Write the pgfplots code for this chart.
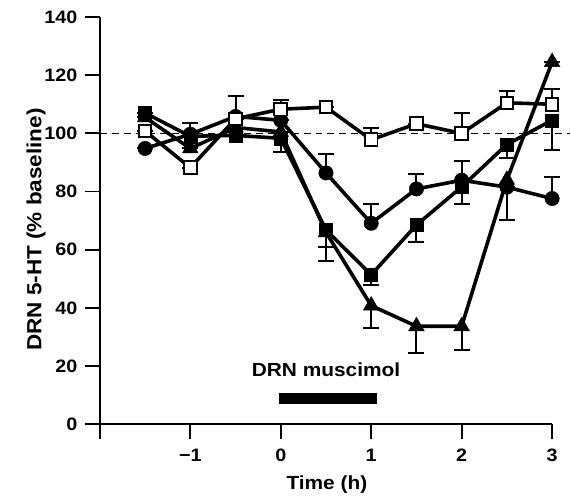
\documentclass[border=0pt]{standalone}
\usepackage{pgfplots}
\pgfplotsset{compat=1.18}
\usepackage{fontspec}
\setmainfont{Liberation Sans}[FakeStretch=1.1]
\begin{document}
\begin{tikzpicture}
\begin{axis}[
  scale only axis,
  width=453pt, height=408pt,
  xmin=-2, xmax=3, ymin=0, ymax=140,
  axis lines=left,
  axis line style={line width=1.8pt, -},
  clip=false,
  xtick={-2,-1,0,1,2,3},
  xticklabels={,−1,0,1,2,3},
  ytick={0,20,40,60,80,100,120,140},
  yticklabels={0,20,40,60,80,100,120,140},
  tick align=outside,
  major tick length=15pt,
  tick style={line width=1.8pt, black},
  tick label style={font=\bfseries\fontsize{18}{22}\selectfont},
  label style={font=\bfseries\fontsize{19}{23}\selectfont},
  xticklabel style={yshift=-6pt},
  yticklabel style={xshift=-4pt},
  xlabel={Time (h)},
  ylabel={DRN 5-HT (\% baseline)},
  xlabel style={at={(axis description cs:0.502,-0.148)}, anchor=center},
  ylabel style={at={(axis description cs:-0.141,0.478)}, anchor=center, font=\bfseries\fontsize{20.5}{24}\selectfont},
  /pgf/number format/assume math mode=true,
]
% baseline
\addplot[black, line width=1.6pt, dash pattern=on 7pt off 5pt] coordinates {(-2,100) (3.2,100)};
% muscimol bar
\addplot[black, line width=11pt] coordinates {(-0.02,9) (1.06,9)};
\node[font=\bfseries\fontsize{19}{23}\selectfont] at (axis cs:0.5,18.6) {DRN muscimol};
% triangles
\addplot[black, line width=3.6pt, mark=triangle*, mark size=9pt, mark options={line width=0.5pt},
  error bars/.cd, y dir=minus, y explicit, error mark=-, error bar style={line width=2pt},
  error mark options={rotate=90, mark size=8pt, line width=2pt}]
 table[y error=e] {
x y e
-1.5 105.5 0
-1 94.8 0
-0.5 102 0
0 100.5 0
0.5 66 5
1 40.8 7.7
1.5 33.7 9.2
2 33.7 8.2
2.5 84 13.8
3 124.5 0
};
% filled squares
\addplot[black, line width=3.6pt, mark=square*, mark size=6.5pt, mark options={line width=0.5pt},
  error bars/.cd, y dir=minus, y explicit, error mark=-, error bar style={line width=2pt},
  error mark options={rotate=90, mark size=8pt, line width=2pt}]
 table[y error=e] {
x y e
-1.5 107 0
-1 99 0
-0.5 99.3 0
0 98.3 4.8
0.5 66.8 10.8
1 51.4 3.5
1.5 68.5 5.7
2 81.6 5.9
2.5 96.2 4.5
3 104.5 10.1
};
% filled circles
\addplot[black, line width=3.6pt, mark=*, mark size=7.2pt, mark options={line width=0.5pt},
  error bars/.cd, y dir=plus, y explicit, error mark=-, error bar style={line width=2pt},
  error mark options={rotate=90, mark size=8pt, line width=2pt}]
 table[y error=e] {
x y e
-1.5 94.8 0
-1 99.7 4
-0.5 105.8 7
0 104.5 0
0.5 86.4 6.4
1 69.1 6.5
1.5 80.9 5.3
2 83.9 6.6
2.5 81.5 0
3 77.6 7.4
};
% open squares
\addplot[black, line width=3.6pt, mark=square*, mark size=6.3pt, mark options={fill=white, line width=2pt},
  error bars/.cd, y dir=plus, y explicit, error mark=-, error bar style={line width=2pt},
  error mark options={rotate=90, mark size=8pt, line width=2pt}]
 table[y error=e] {
x y e
-1.5 100.8 0
-1 88.2 0
-0.5 105 0
0 108.3 3.2
0.5 109 0
1 97.8 4.1
1.5 103.3 0
2 100 7
2.5 110.5 4
3 110 5.3
};
\path (rel axis cs:-0.2208,-0.1716) rectangle (rel axis cs:1.0397,1.0417);
\end{axis}
\end{tikzpicture}
\end{document}
